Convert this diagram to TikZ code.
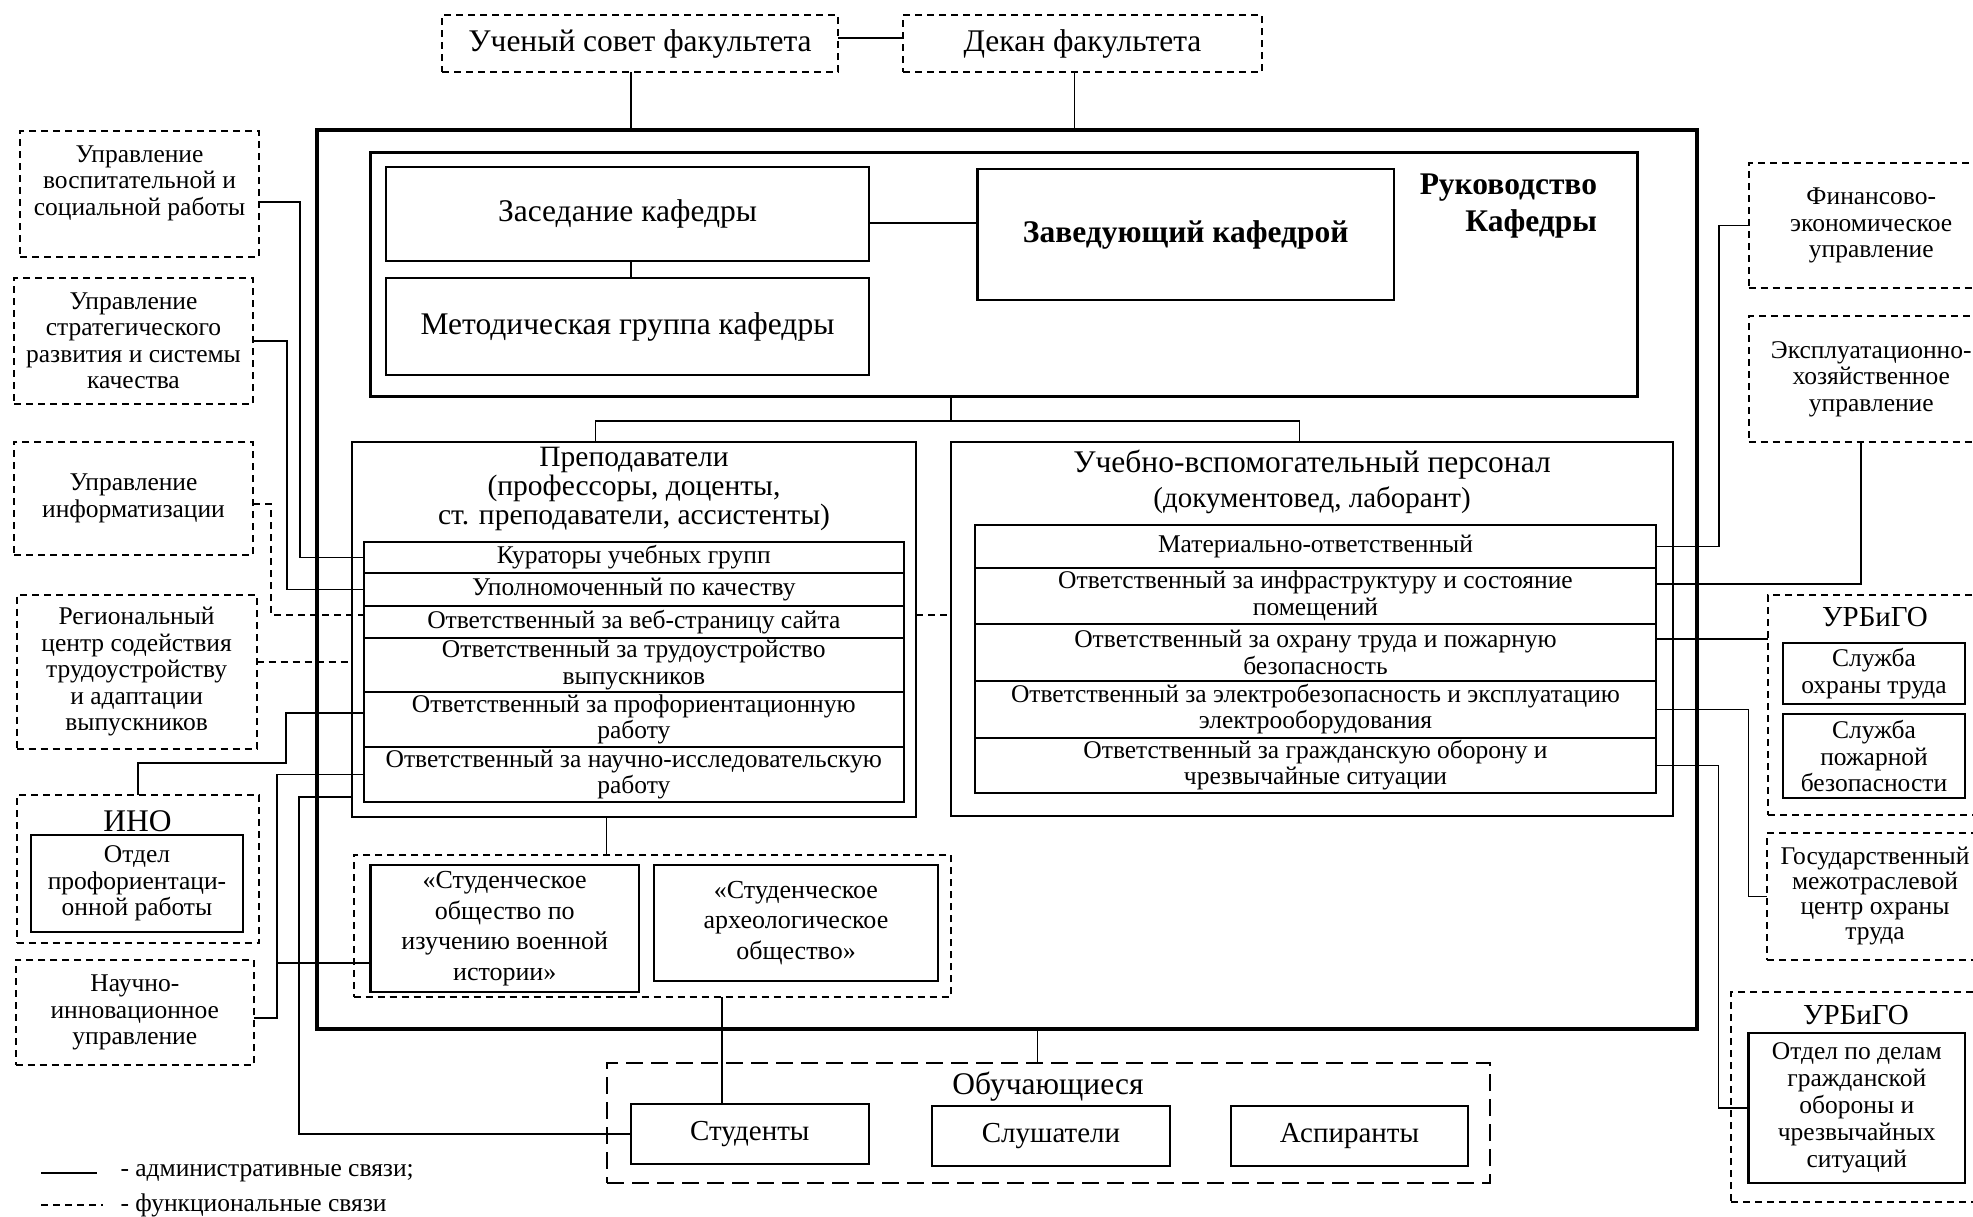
\documentclass[tikz,border=0pt]{standalone}
\usepackage{fontspec}
\setmainfont{Liberation Serif}
\usetikzlibrary{positioning}

\newcommand{\txtn}{\fontsize{25.5}{26.5}\selectfont}
\newcommand{\txtb}{\fontsize{31.5}{33}\selectfont}
\newcommand{\txtm}{\fontsize{29}{29}\selectfont}

\begin{document}
\begin{tikzpicture}[x=1pt,y=-1pt,
  every node/.style={inner sep=0pt,outer sep=0pt,align=center,font=\txtn},
  box/.style={draw,line width=2.2pt},
  dbox/.style={draw,line width=2pt,dash pattern=on 7pt off 5pt},
  lbox/.style={draw,line width=2pt,dash pattern=on 17pt off 8pt},
  row/.style={box,minimum width=539.6pt},
  vrow/.style={box,minimum width=681pt},
  link/.style={line width=1.6pt},
  flink/.style={line width=1.6pt,dash pattern=on 7pt off 5pt},
  soc/.style={box,font=\fontsize{26}{30.5}\selectfont}]

  \useasboundingbox (0,0) rectangle (1973,1216);
  \clip (0,0) rectangle (1973,1216);

  % faculty
  \node[dbox,minimum width=396pt,minimum height=57pt,font=\txtb] (sovet) at (640,43.5) {Ученый совет факультета};
  \node[dbox,minimum width=359pt,minimum height=57pt,font=\txtb] (dekan) at (1082.5,43.5) {Декан факультета};

  % department
  \node[draw,line width=4.5pt,minimum width=1380pt,minimum height=899pt] (frame) at (1007,579.5) {};
  \node[draw,line width=3pt,minimum width=1266.5pt,minimum height=243.3pt] (rukov) at (1003.75,274.35) {};
  \node[box,minimum width=483pt,minimum height=94pt,font=\txtb] (zased) at (627.5,214) {Заседание кафедры};
  \node[box,minimum width=483pt,minimum height=97pt,font=\txtb] (metod) at (627.5,326.5) {Методическая группа кафедры};
  \node[box,line width=2.6pt,minimum width=416.5pt,minimum height=131pt,font=\txtb\bfseries] (zav) at (1185.75,234.5) {Заведующий кафедрой};
  \node[anchor=north east,align=right,font=\fontsize{31.5}{37}\selectfont\bfseries] (rukt) at (1597,174) {Руководство\\Кафедры};

  % teachers
  \node[draw,line width=1.8pt,minimum width=564pt,minimum height=375pt] (prep) at (634,629.2) {};
  \node[font=\fontsize{29.5}{29}\selectfont] (prept) at (634,489) {Преподаватели\\(профессоры, доценты,\\ст. преподаватели, ассистенты)};
  \node[row,minimum height=31pt] (kurat) at (633.8,557.5) {Кураторы учебных групп};
  \node[row,minimum height=33pt,below=0pt of kurat] (upoln) {Уполномоченный по качеству};
  \node[row,minimum height=32pt,below=0pt of upoln] (web) {Ответственный за веб-страницу сайта};
  \node[row,minimum height=54pt,below=0pt of web] (trud) {Ответственный за трудоустройство\\выпускников};
  \node[row,minimum height=55pt,below=0pt of trud] (prof) {Ответственный за профориентационную\\работу};
  \node[row,minimum height=55pt,below=0pt of prof] (nauch) {Ответственный за научно-исследовательскую\\работу};

  % support staff
  \node[draw,line width=1.8pt,minimum width=722pt,minimum height=374.3pt] (uvp) at (1312,628.85) {};
  \node[font=\txtb] (uvpt) at (1312,465) {Учебно-вспомогательный персонал};
  \node[font=\txtm] (uvps) at (1312,500) {(документовед, лаборант)};
  \node[vrow,minimum height=42.7pt] (mat) at (1315.5,546.35) {Материально-ответственный};
  \node[vrow,minimum height=56.3pt,below=0pt of mat] (infra) {Ответственный за инфраструктуру и состояние\\помещений};
  \node[vrow,minimum height=57pt,below=0pt of infra] (ohr) {Ответственный за охрану труда и пожарную\\безопасность};
  \node[vrow,minimum height=56.7pt,below=0pt of ohr] (elec) {Ответственный за электробезопасность и эксплуатацию\\электрооборудования};
  \node[vrow,minimum height=55.3pt,below=0pt of elec] (grazh) {Ответственный за гражданскую оборону и\\чрезвычайные ситуации};

  % student societies
  \node[dbox,minimum width=597.4pt,minimum height=142pt] (socgrp) at (652.3,926) {};
  \node[soc,minimum width=268.5pt,minimum height=127pt] (voen) at (504.75,928.5) {«Студенческое\\общество по\\изучению военной\\истории»};
  \node[soc,minimum width=284pt,minimum height=116pt] (arch) at (796,923) {«Студенческое\\археологическое\\общество»};

  % learners
  \node[lbox,minimum width=883pt,minimum height=120pt] (obuch) at (1048.5,1123) {};
  \node[font=\txtb] (obucht) at (1048,1087) {Обучающиеся};
  \node[box,line width=1.8pt,minimum width=237.6pt,minimum height=60pt,font=\txtm] (stud) at (749.8,1134) {Студенты};
  \node[box,line width=1.8pt,minimum width=238pt,minimum height=60pt,font=\txtm] (slush) at (1051,1136) {Слушатели};
  \node[box,line width=1.8pt,minimum width=237pt,minimum height=60pt,font=\txtm] (asp) at (1349.5,1136) {Аспиранты};

  % left units
  \node[dbox,minimum width=239pt,minimum height=126pt] (vosp) at (139.5,194) {};
  \node (vospt) at (139.5,183) {Управление\\воспитательной и\\социальной работы};
  \node[dbox,minimum width=239pt,minimum height=126pt] (strat) at (133.5,341) {Управление\\стратегического\\развития и системы\\качества};
  \node[dbox,minimum width=239pt,minimum height=113.3pt] (inform) at (133.5,498.35) {Управление\\информатизации};
  \node[dbox,minimum width=240.2pt,minimum height=154pt] (region) at (136.6,672) {Региональный\\центр содействия\\трудоустройству\\и адаптации\\выпускников};
  \node[dbox,minimum width=242.5pt,minimum height=148pt] (ino) at (137.75,869) {};
  \node[font=\txtb] (inot) at (137.5,821) {ИНО};
  \node[box,minimum width=212pt,minimum height=97pt] (otdpro) at (137,883.5) {Отдел\\профориентаци-\\онной работы};
  \node[dbox,minimum width=238.4pt,minimum height=105pt] (nauchinn) at (134.8,1012.5) {Научно-\\инновационное\\управление};

  % right units
  \node[dbox,minimum width=245.5pt,minimum height=125pt] (fin) at (1871.25,225.5) {Финансово-\\экономическое\\управление};
  \node[dbox,minimum width=245.5pt,minimum height=126pt] (expl) at (1871.25,379) {Эксплуатационно-\\хозяйственное\\управление};
  \node[dbox,minimum width=214pt,minimum height=220pt] (urb1) at (1875,705) {};
  \node[font=\txtm] (urb1t) at (1875,617) {УРБиГО};
  \node[box,minimum width=182pt,minimum height=61pt] (sl1) at (1874,673.5) {Служба\\охраны труда};
  \node[box,minimum width=182pt,minimum height=84pt] (sl2) at (1874,756) {Служба\\пожарной\\безопасности};
  \node[dbox,minimum width=216pt,minimum height=127pt,font=\fontsize{25.5}{25}\selectfont] (gos) at (1875,896.5) {Государственный\\межотраслевой\\центр охраны\\труда};
  \node[dbox,minimum width=250pt,minimum height=210pt] (urb2) at (1856,1097) {};
  \node[font=\txtm] (urb2t) at (1856,1015) {УРБиГО};
  \node[box,minimum width=216.5pt,minimum height=150pt,font=\fontsize{25.5}{27}\selectfont] (otdgo) at (1856.75,1108) {Отдел по делам\\гражданской\\обороны и\\чрезвычайных\\ситуаций};

  % administrative links
  \coordinate (sovb) at ([xshift=-9pt]sovet.south);
  \coordinate (dekb) at ([xshift=-8pt]dekan.south);
  \coordinate (zasr) at ([yshift=-9pt]zased.east);
  \draw[link] ([yshift=5.5pt]sovet.east) -- ([yshift=5.5pt]dekan.west);
  \draw[link] (sovb) -- (sovb |- frame.north);
  \draw[link] (dekb) -- (dekb |- frame.north);
  \draw[link] ([xshift=3.5pt]zased.south) -- ([xshift=3.5pt]metod.north);
  \draw[link] (zasr) -- (zasr -| zav.west);

  \coordinate (split) at ([xshift=-52.75pt,yshift=-24.7pt]rukov.south);
  \coordinate (prtop) at ([xshift=-38.5pt]prep.north);
  \coordinate (uvtop) at ([xshift=-12.5pt]uvp.north);
  \draw[link] (split |- rukov.south) -- (split);
  \draw[link] (prtop) -- (prtop |- split) -- (uvtop |- split) -- (uvtop);

  \coordinate (ohrr) at ([yshift=13.5pt]ohr.east);
  \draw[link] (mat.east) -| ([xshift=-29.5pt]fin.west) -- (fin.west);
  \draw[link] ([yshift=12pt]infra.east) -| ([xshift=-10.25pt]expl.south);
  \draw[link] (ohrr) -- (ohrr -| urb1.west);
  \draw[link] (elec.east) -| ([xshift=-18.5pt]gos.west) -- (gos.west);
  \draw[link] (grazh.east) -| ([xshift=-30pt]otdgo.west) -- (otdgo.west);

  \draw[link] ([yshift=-8pt]vosp.east) -| ([xshift=-64pt]kurat.west) -- (kurat.west);
  \draw[link] (strat.east) -| ([xshift=-77pt]upoln.west) -- (upoln.west);
  \coordinate (profl) at ([yshift=6.5pt]prof.west);
  \draw[link] (profl) -- ++(-78,0) |- ([yshift=32pt]ino.north) -- (ino.north);
  \draw[link] (nauch.west) -| ([xshift=23pt,yshift=-5.5pt]nauchinn.east) -- ([yshift=-5.5pt]nauchinn.east);
  \coordinate (voenl) at ([yshift=-34.5pt]voen.west);
  \draw[link] (voenl) -- ++(-93.5,0);
  \coordinate (prepl) at ([yshift=-167.8pt]prep.west);
  \draw[link] (prepl) -- ++(-53,0) |- (stud.west);

  \coordinate (prb) at ([xshift=-27.5pt]prep.south);
  \coordinate (stt) at ([xshift=-27.8pt]stud.north);
  \coordinate (obt) at ([xshift=-10.9pt]obuch.north);
  \draw[link] (prb) -- (prb |- socgrp.north);
  \draw[link] (stt |- socgrp.south) -- (stt);
  \draw[link] (obt |- frame.south) -- (obt);

  % functional links
  \coordinate (webl) at ([yshift=7pt]web.west);
  \coordinate (regr) at ([yshift=10.3pt]region.east);
  \draw[flink] ([yshift=-5.65pt]inform.east) -| ([xshift=-93pt]webl) -- (webl);
  \draw[flink] (webl -| prep.east) -- (webl -| uvp.west);
  \draw[flink] (regr) -- (regr -| prep.west);

  % legend
  \coordinate (leg1) at (41,1173);
  \coordinate (leg2) at (41,1205);
  \draw[link] (leg1) -- ++(56,0);
  \draw[flink] (leg2) -- ++(62,0);
  \node[anchor=west] (legt1) at (120.5,1173) {- административные связи;};
  \node[anchor=west] (legt2) at (120.5,1205) {- функциональные связи};
\end{tikzpicture}
\end{document}
